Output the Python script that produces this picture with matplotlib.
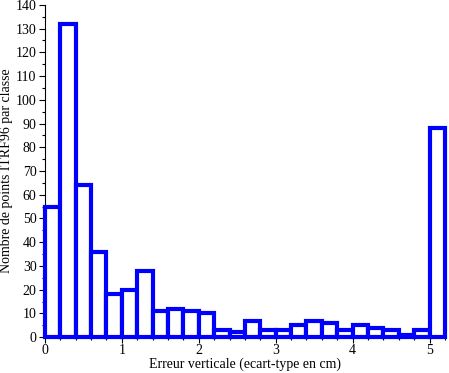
import numpy as np
import matplotlib.pyplot as plt
from matplotlib.ticker import MultipleLocator

plt.rcParams['font.family'] = ['Liberation Serif', 'DejaVu Serif']

# effectifs par classe de 0.2 cm
bin_left = np.arange(0, 5.2, 0.2)
counts = [55, 132, 64, 36, 18, 20, 28, 11, 12, 11, 10, 3, 2, 7, 3, 3,
          5, 7, 6, 3, 5, 4, 3, 1, 3, 88]
x_ticks = [0, 1, 2, 3, 4, 5]

fig = plt.figure(figsize=(4.49, 3.73), dpi=100)
ax = fig.add_axes([0.1, 0.096, 0.891, 0.891])
ax.bar(bin_left, counts, width=0.2, align='edge', color='white',
       edgecolor='#0000ff', linewidth=3, clip_on=False, zorder=3)

ax.set_xlim(0, 5.2)
ax.set_ylim(0, 140)
ax.set_xticks(x_ticks)
ax.xaxis.set_minor_locator(MultipleLocator(0.2))
ax.yaxis.set_major_locator(MultipleLocator(10))
ax.yaxis.set_minor_locator(MultipleLocator(5))
for s in ['top', 'right']:
    ax.spines[s].set_visible(False)
ax.spines['bottom'].set_visible(False)
ax.tick_params(labelsize=10, length=4, width=0.8, pad=2)
ax.tick_params(axis='x', pad=1)
ax.tick_params(which='minor', length=2.5, width=0.8)
ax.set_xlabel('Erreur verticale (ecart-type en cm)', fontsize=10, labelpad=0)
ax.set_ylabel('Nombre de points ITRF96 par classe', fontsize=10, labelpad=2)

fig.savefig('out.png', dpi=100)
